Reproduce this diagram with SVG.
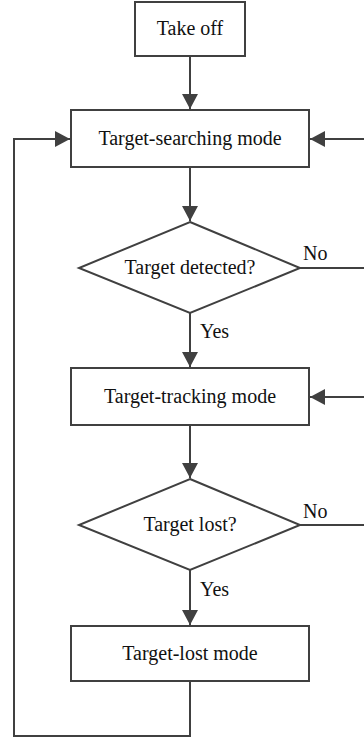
<svg xmlns="http://www.w3.org/2000/svg" width="364" height="740" viewBox="0 0 364 740">
  <style>
    .box { fill: #ffffff; stroke: #404040; stroke-width: 2; }
    .edge { fill: none; stroke: #404040; stroke-width: 2; }
    text { font-family: 'Liberation Serif', serif !important; font-size: 20px; fill: #111111; }
    .mid { text-anchor: middle; }
  </style>
  <defs>
    <marker id="arrow" markerUnits="userSpaceOnUse" markerWidth="16" markerHeight="16" refX="15" refY="8" orient="auto">
      <path d="M0,0 L15,8 L0,16 Z" fill="#404040"/>
    </marker>
  </defs>

  <rect width="364" height="740" fill="#ffffff"/>

  <g id="connectors">
    <path class="edge" d="M190,56 V109" marker-end="url(#arrow)"/>
    <path class="edge" d="M190,167 V221" marker-end="url(#arrow)"/>
    <path class="edge" d="M190,313 V367" marker-end="url(#arrow)"/>
    <path class="edge" d="M190,425 V478" marker-end="url(#arrow)"/>
    <path class="edge" d="M190,570 V625" marker-end="url(#arrow)"/>
    <path class="edge" d="M190,681 V736 H14 V139 H70" marker-end="url(#arrow)"/>
    <path class="edge" d="M300,268 H374 V139 H310" marker-end="url(#arrow)"/>
    <path class="edge" d="M300,525 H374 V397 H310" marker-end="url(#arrow)"/>
    <text x="303" y="260" font-family="Liberation Serif">No</text>
    <text x="303" y="518" font-family="Liberation Serif">No</text>
    <text x="200" y="338" font-family="Liberation Serif">Yes</text>
    <text x="200" y="596" font-family="Liberation Serif">Yes</text>
  </g>

  <g id="take-off">
    <rect class="box" x="135" y="2" width="110" height="54"/>
    <text class="mid" x="190" y="35" font-family="Liberation Serif">Take off</text>
  </g>

  <g id="target-searching">
    <rect class="box" x="71" y="110" width="238" height="57"/>
    <text class="mid" x="190" y="145" font-family="Liberation Serif">Target-searching mode</text>
  </g>

  <g id="target-detected">
    <polygon class="box" points="190,222 300,268 190,313 79,268"/>
    <text class="mid" x="190" y="274" font-family="Liberation Serif">Target detected?</text>
  </g>

  <g id="target-tracking">
    <rect class="box" x="71" y="368" width="238" height="57"/>
    <text class="mid" x="190" y="403" font-family="Liberation Serif">Target-tracking mode</text>
  </g>

  <g id="target-lost-check">
    <polygon class="box" points="190,479 300,525 190,570 79,525"/>
    <text class="mid" x="190" y="531" font-family="Liberation Serif">Target lost?</text>
  </g>

  <g id="target-lost">
    <rect class="box" x="71" y="626" width="238" height="55"/>
    <text class="mid" x="190" y="660" font-family="Liberation Serif">Target-lost mode</text>
  </g>
</svg>
